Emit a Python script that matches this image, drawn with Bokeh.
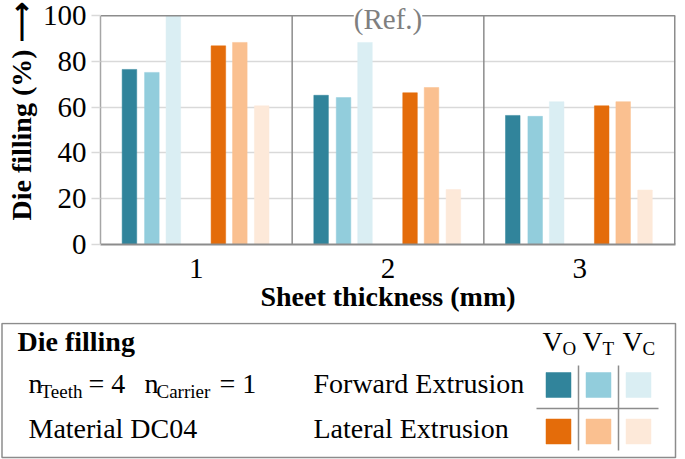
from bokeh.plotting import figure
from bokeh.models import Range1d, FixedTicker, Label, ColumnDataSource
from bokeh.embed import file_html
from bokeh.resources import INLINE
from bokeh.core.properties import value

# ---- data ----
thickness = [1, 2, 3]
tick_labels = ["1", "2", "3"]
y_ticks = [0, 20, 40, 60, 80, 100]
series_names = ["Forward V_O", "Forward V_T", "Forward V_C", "Lateral V_O", "Lateral V_T", "Lateral V_C"]
forward_vo = [76.5, 65.2, 56.4]
forward_vt = [75.2, 64.2, 56.0]
forward_vc = [100.0, 88.3, 62.4]
lateral_vo = [86.8, 66.3, 60.6]
lateral_vt = [88.3, 68.6, 62.4]
lateral_vc = [60.6, 24.0, 23.8]
series_values = [forward_vo, forward_vt, forward_vc, lateral_vo, lateral_vt, lateral_vc]
colors = ["#31849B", "#92CDDC", "#DAEEF3", "#E46C0A", "#FAC090", "#FDE9D9"]
offsets = [-0.349, -0.232, -0.120, 0.115, 0.227, 0.341]
bar_w = 0.076

FAM = "'Liberation Serif', 'Times New Roman', serif"
FONT = value(FAM)
GRAY = "#8c8c8c"

p = figure(width=685, height=322, x_range=Range1d(0.5, 3.5), y_range=Range1d(0, 104),
           output_backend="svg", toolbar_location=None,
           min_border_left=100, min_border_right=10, min_border_top=6, min_border_bottom=78)
p.outline_line_color = None

for vals, col, off in zip(series_values, colors, offsets):
    src = ColumnDataSource(dict(x=[t + off for t in thickness], top=vals))
    p.vbar(x="x", top="top", width=bar_w, bottom=0, source=src,
           fill_color=col, line_color=col, line_width=0.5)

p.xgrid.grid_line_color = None
p.ygrid.grid_line_color = "#d9d9d9"
p.ygrid.grid_line_width = 1.5
p.ygrid.ticker = FixedTicker(ticks=y_ticks[:-1])

# group separators, right border and top border of the plot box
top_val = y_ticks[-1]
p.segment(x0=[1.5, 2.5], y0=[0, 0], x1=[1.5, 2.5], y1=[top_val, top_val],
          line_color=GRAY, line_width=1.5)
p.segment(x0=[3.5], y0=[0], x1=[3.5], y1=[top_val], line_color=GRAY, line_width=3)
p.segment(x0=[0.5], y0=[top_val], x1=[3.5], y1=[top_val], line_color=GRAY, line_width=1.5)

p.xaxis.ticker = FixedTicker(ticks=thickness)
p.xaxis.major_label_overrides = {t: l for t, l in zip(thickness, tick_labels)}
p.xaxis.major_tick_line_color = None
p.xaxis.minor_tick_line_color = None
p.xaxis.axis_line_color = GRAY
p.xaxis.axis_line_width = 2
p.xaxis.major_label_standoff = 8
p.xaxis.axis_label = "Sheet thickness (mm)"
p.xaxis.axis_label_standoff = 0

p.yaxis.ticker = FixedTicker(ticks=y_ticks)
p.yaxis.bounds = (0, top_val)
p.yaxis.major_tick_out = 9
p.yaxis.major_tick_in = 0
p.yaxis.major_tick_line_color = "#d9d9d9"
p.yaxis.major_tick_line_width = 1.5
p.yaxis.minor_tick_line_color = None
p.yaxis.axis_line_color = "#a6a6a6"
p.yaxis.axis_line_width = 1.5
p.yaxis.major_label_standoff = 5
p.yaxis.axis_label = "\u00a0\u00a0\u00a0\u00a0Die filling (%) \u27f6"
p.yaxis.axis_label_standoff = 3

for ax in (p.xaxis, p.yaxis):
    ax.major_label_text_font = FAM
    ax.major_label_text_font_size = "29px"
    ax.major_label_text_color = "#000000"
    ax.axis_label_text_font = FAM
    ax.axis_label_text_font_size = "28px"
    ax.axis_label_text_font_style = "bold"
    ax.axis_label_text_color = "#000000"

p.add_layout(Label(x=2, y=top_val, text="(Ref.)", text_align="center", text_baseline="middle",
                   text_font=FAM, text_font_size="29px", text_color="#7f7f7f",
                   background_fill_color="white", y_offset=-3))

# ---- legend panel (coordinates = page pixels) ----
leg_series = ["Forward Extrusion", "Lateral Extrusion"]
vol_labels = ["V", "V", "V"]
vol_subs = ["O", "T", "C"]

q = figure(width=685, height=137, x_range=Range1d(0, 685), y_range=Range1d(459, 322),
           output_backend="svg", toolbar_location=None,
           min_border=0, min_border_left=0, min_border_right=0, min_border_top=0, min_border_bottom=0)
q.axis.visible = False
q.grid.visible = False
q.outline_line_color = None

q.quad(left=[1.5], right=[675], top=[323], bottom=[457], fill_color=None,
       line_color=GRAY, line_width=1.5)

def txt(x, y, s, size="28px", style="normal", align="left"):
    q.text(x=[x], y=[y], text=[s], text_font=FONT, text_font_size=size,
           text_font_style=style, text_baseline="alphabetic", text_align=align, text_color="#000000")

r1, r2, r0 = 383, 428, 341
txt(17, r0, "Die filling", style="bold")
txt(28, r1, "n")
txt(40, r1 + 8, "Teeth", size="19px")
txt(88, r1, "= 4")
txt(144, r1, "n")
txt(156, r1 + 8, "Carrier", size="19px")
txt(219, r1, "= 1")
txt(28, r2, "Material DC04")
txt(313, r1, leg_series[0])
txt(313, r2, leg_series[1])

vx = [542, 582, 622]
for x0, v, s in zip(vx, vol_labels, vol_subs):
    txt(x0, r0, v)
    txt(x0 + 20, r0 + 7, s, size="19px")

sw_x = [558, 598, 638]
sw_y = [384.5, 431]
for r, yc in enumerate(sw_y):
    for c, xc in enumerate(sw_x):
        q.rect(x=[xc], y=[yc], width=25, height=25, fill_color=colors[r * 3 + c],
               line_color=colors[r * 3 + c], line_width=0.5)

q.segment(x0=[578, 618, 536], y0=[365, 365, 408], x1=[578, 618, 658], y1=[450, 450, 408],
          line_color=GRAY, line_width=1.5)

open("out.html", "w").write(file_html([p, q], INLINE))
